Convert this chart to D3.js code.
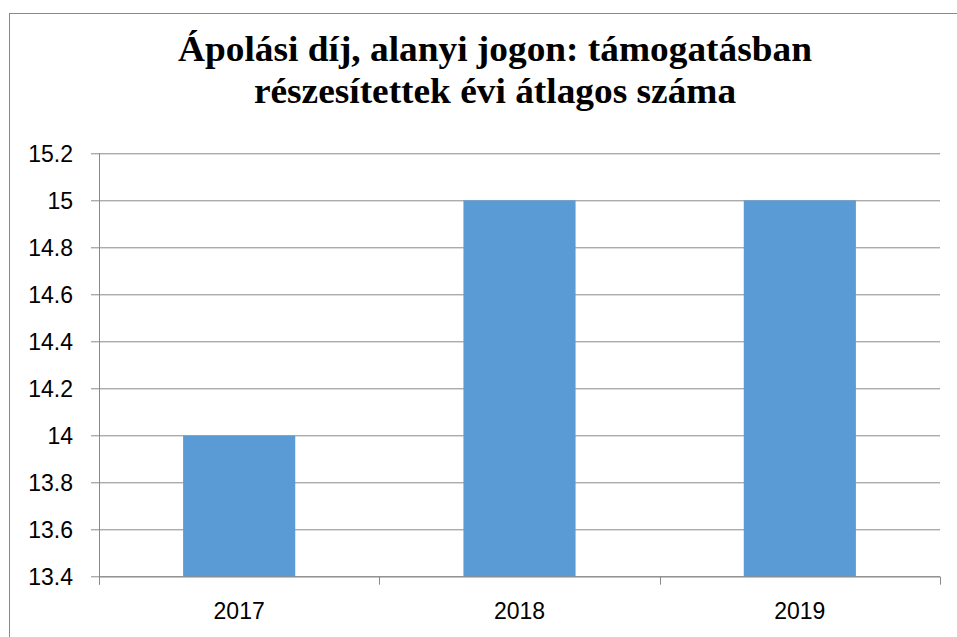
<!DOCTYPE html>
<html>
  <head>
    <meta charset="utf-8">
    <title>Ápolási díj</title>
    <style>
      body { margin: 0; background: #fff; }
      svg { display: block; }
    </style>
  </head>
  <body>
    <div id="container"></div>
    <script src="https://cdn.jsdelivr.net/npm/d3@7"></script>
    <script>
      // data
      var years = ["2017", "2018", "2019"];
      var values = [14, 15, 15];
      var yTicks = [13.4, 13.6, 13.8, 14, 14.2, 14.4, 14.6, 14.8, 15, 15.2];
      var titleLines = ["Ápolási díj, alanyi jogon: támogatásban", "részesítettek évi átlagos száma"];

      var W = 957, H = 637;
      var margin = {top: 153.3, right: 17, bottom: 60.3, left: 99};
      var width = W - margin.left - margin.right,
          height = H - margin.top - margin.bottom;

      var svg = d3.select("#container").append("svg")
        .attr("width", W)
        .attr("height", H);

      // outer chart border
      svg.append("rect")
        .attr("x", 9.5).attr("y", 13.5)
        .attr("width", 990).attr("height", 700)
        .attr("fill", "none")
        .attr("stroke", "#898989")
        .attr("stroke-width", 1);

      // title is a bit wider than Liberation Serif, so stretch it horizontally
      var title = svg.append("text")
        .attr("transform", "translate(495,0) scale(1.067,1)")
        .attr("text-anchor", "middle")
        .attr("font-family", "'Liberation Serif', 'Times New Roman', serif")
        .attr("font-weight", "bold")
        .attr("font-size", 35)
        .attr("fill", "#000");
      titleLines.forEach(function(t, i) {
        title.append("tspan")
          .attr("x", 0)
          .attr("y", 61 + i * 42.5)
          .text(t);
      });

      var g = svg.append("g")
        .attr("transform", "translate(" + margin.left + "," + margin.top + ")");

      var x = d3.scaleBand().domain(years).range([0, width]).paddingInner(0.6).paddingOuter(0.3);
      var xb = d3.scaleBand().domain(years).range([0, width]); // category slots for ticks
      var y = d3.scaleLinear().domain([13.4, 15.2]).range([height, 0]);

      // gridlines
      g.selectAll(".grid")
        .data(yTicks)
        .enter().append("line")
          .attr("x1", -8)
          .attr("x2", width)
          .attr("y1", function(d) { return Math.round(y(d)) + 0.5; })
          .attr("y2", function(d) { return Math.round(y(d)) + 0.5; })
          .attr("stroke", "#898989")
          .attr("stroke-width", 1);

      // bars
      g.selectAll(".bar")
        .data(values)
        .enter().append("rect")
          .attr("x", function(d, i) { return x(years[i]); })
          .attr("width", x.bandwidth())
          .attr("y", function(d) { return y(d); })
          .attr("height", function(d) { return height - y(d); })
          .attr("fill", "#5B9BD5");

      // y axis line
      g.append("line")
        .attr("x1", 0.5).attr("x2", 0.5)
        .attr("y1", 0).attr("y2", height + 8)
        .attr("stroke", "#898989");

      // x axis line + category ticks
      g.append("line")
        .attr("x1", 0).attr("x2", width)
        .attr("y1", Math.round(height) + 0.5).attr("y2", Math.round(height) + 0.5)
        .attr("stroke", "#898989");
      var bounds = years.map(function(d) { return xb(d); }).concat([width]);
      g.selectAll(".xtick")
        .data(bounds)
        .enter().append("line")
          .attr("x1", function(d) { return Math.round(d) + 0.5; })
          .attr("x2", function(d) { return Math.round(d) + 0.5; })
          .attr("y1", height)
          .attr("y2", height + 8)
          .attr("stroke", "#898989");

      var labelFont = "'Liberation Sans', Arial, sans-serif";

      g.selectAll(".ylab")
        .data(yTicks)
        .enter().append("text")
          .attr("x", -26)
          .attr("y", function(d) { return y(d); })
          .attr("dy", "0.36em")
          .attr("text-anchor", "end")
          .attr("font-family", labelFont)
          .attr("font-size", 23)
          .attr("fill", "#000")
          .text(function(d) { return d3.format("")(+d.toFixed(1)); });

      g.selectAll(".xlab")
        .data(years)
        .enter().append("text")
          .attr("x", function(d) { return xb(d) + xb.bandwidth() / 2; })
          .attr("y", height + 42.6)
          .attr("text-anchor", "middle")
          .attr("font-family", labelFont)
          .attr("font-size", 23)
          .attr("fill", "#000")
          .text(function(d) { return d; });
    </script>
  </body>
</html>
